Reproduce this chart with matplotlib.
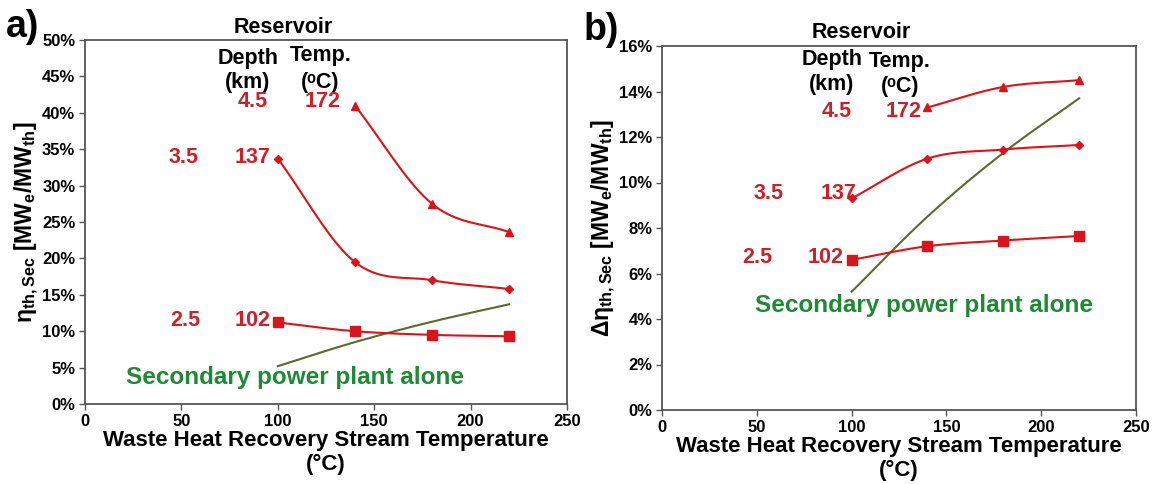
import numpy as np
import matplotlib
matplotlib.use("Agg")
import matplotlib.pyplot as plt
from matplotlib.ticker import FuncFormatter, MultipleLocator

plt.rcParams['font.family'] = ['Liberation Sans', 'DejaVu Sans']
plt.rcParams['font.weight'] = 'bold'
plt.rcParams['mathtext.fontset'] = 'custom'
plt.rcParams['mathtext.rm'] = 'Liberation Sans:bold'
plt.rcParams['mathtext.it'] = 'Liberation Sans:bold'
plt.rcParams['mathtext.bf'] = 'Liberation Sans:bold'

# ---------------- data ----------------
temps = [100, 140, 180, 220]
temps_45 = [140, 180, 220]

a_25 = [11.2, 10.0, 9.5, 9.3]
a_35 = [33.7, 19.5, 17.0, 15.8]
a_45 = [41.0, 27.5, 23.6]

b_25 = [6.6, 7.2, 7.45, 7.65]
b_35 = [9.3, 11.05, 11.45, 11.65]
b_45 = [13.3, 14.2, 14.5]

secondary = [5.2, 8.5, 11.3, 13.7]

x_ticks = [0, 50, 100, 150, 200, 250]

RED = '#C9222B'
LINE_RED = '#D8141C'
GREEN_TXT = '#1F8A34'
GREEN_LINE = '#5B6A2E'


def smooth(x, y, n=40):
    x = np.asarray(x, float)
    y = np.asarray(y, float)
    px = np.concatenate([[2 * x[0] - x[1]], x, [2 * x[-1] - x[-2]]])
    py = np.concatenate([[2 * y[0] - y[1]], y, [2 * y[-1] - y[-2]]])
    xs, ys = [], []
    for i in range(1, len(px) - 2):
        t = np.linspace(0, 1, n)
        p0, p1, p2, p3 = [np.array([px[j], py[j]]) for j in (i - 1, i, i + 1, i + 2)]
        t2, t3 = t * t, t * t * t
        pts = 0.5 * ((2 * p1)[:, None] + (-p0 + p2)[:, None] * t
                     + (2 * p0 - 5 * p1 + 4 * p2 - p3)[:, None] * t2
                     + (-p0 + 3 * p1 - 3 * p2 + p3)[:, None] * t3)
        xs.extend(pts[0]); ys.extend(pts[1])
    return np.array(xs), np.array(ys)


fig = plt.figure(figsize=(11.66, 4.84), dpi=100)
axa = fig.add_axes([85 / 1166, 80 / 484, 482 / 1166, 364 / 484])
axb = fig.add_axes([662 / 1166, 74 / 484, 474 / 1166, 364 / 484])

pct = FuncFormatter(lambda v, p: f"{v:.0f}%")


def style(ax, ymax, ystep):
    ax.set_xlim(0, 250)
    ax.set_ylim(0, ymax)
    ax.set_xticks(x_ticks)
    ax.yaxis.set_major_locator(MultipleLocator(ystep))
    ax.yaxis.set_major_formatter(pct)
    for s in ax.spines.values():
        s.set_color('#555555')
        s.set_linewidth(1.3)
    ax.tick_params(direction='out', length=4, width=1, color='#555555',
                   labelsize=12, pad=3)
    for lab in ax.get_xticklabels() + ax.get_yticklabels():
        lab.set_fontweight('bold')
    ax.set_xlabel("Waste Heat Recovery Stream Temperature\n(°C)",
                  fontsize=16, fontweight='bold', labelpad=1, linespacing=1.15)


def draw_series(ax, x, y, marker, ms):
    sx, sy = smooth(x, y)
    ax.plot(sx, sy, color=LINE_RED, lw=1.5, zorder=3)
    ax.plot(x, y, ls='none', marker=marker, ms=ms, color=LINE_RED, zorder=4)


kw_black = dict(fontsize=15.5, fontweight='bold', color='black', ha='center',
                va='center', clip_on=False)
kw_red = dict(fontsize=15.5, fontweight='bold', color=RED, ha='center', va='center')
kw_green = dict(fontsize=17.5, fontweight='bold', color=GREEN_TXT, ha='center',
                va='center')

# ---------------- panel a ----------------
style(axa, 50, 5)
draw_series(axa, temps, a_25, 's', 6.5)
draw_series(axa, temps, a_35, 'D', 4)
draw_series(axa, temps_45, a_45, '^', 6)
gx, gy = smooth(temps, secondary)
axa.plot(gx, gy, color=GREEN_LINE, lw=1.5, zorder=2)
axa.set_ylabel(r"$\mathrm{η_{th,Sec}}$ [MW$_\mathrm{e}$/MW$_\mathrm{th}$]",
               fontsize=16.5, fontweight='bold', labelpad=1)

axa.text(103, 51.7, "Reservoir", **kw_black)
axa.text(84.5, 47.5, "Depth", **kw_black)
axa.text(84.5, 44.1, "(km)", **kw_black)
axa.text(122, 47.9, "Temp.", **kw_black)
axa.text(122, 44.2, "(ᵒC)", **kw_black)
axa.text(87, 41.5, "4.5", **kw_red)
axa.text(123.5, 41.5, "172", **kw_red)
axa.text(51, 33.8, "3.5", **kw_red)
axa.text(87, 33.8, "137", **kw_red)
axa.text(52, 11.5, "2.5", **kw_red)
axa.text(87, 11.5, "102", **kw_red)
axa.text(109, 3.7, "Secondary power plant alone", **kw_green)
fig.text(6 / 1166, 1 - 27 / 484, "a)", fontsize=27, fontweight='bold', va='center', ha='left')

# ---------------- panel b ----------------
style(axb, 16, 2)
draw_series(axb, temps, b_25, 's', 6.5)
draw_series(axb, temps, b_35, 'D', 4)
draw_series(axb, temps_45, b_45, '^', 6)
gx, gy = smooth(temps, secondary)
axb.plot(gx, gy, color=GREEN_LINE, lw=1.5, zorder=2)
axb.set_ylabel(r"$\mathrm{Δη_{th,Sec}}$ [MW$_\mathrm{e}$/MW$_\mathrm{th}$]",
               fontsize=16.5, fontweight='bold', labelpad=1)

axb.text(105, 16.6, "Reservoir", **kw_black)
axb.text(89.5, 15.4, "Depth", **kw_black)
axb.text(89.5, 14.3, "(km)", **kw_black)
axb.text(125.5, 15.3, "Temp.", **kw_black)
axb.text(125.5, 14.2, "(ᵒC)", **kw_black)
axb.text(92, 13.1, "4.5", **kw_red)
axb.text(127.5, 13.1, "172", **kw_red)
axb.text(56, 9.5, "3.5", **kw_red)
axb.text(93, 9.5, "137", **kw_red)
axb.text(50.5, 6.7, "2.5", **kw_red)
axb.text(86.5, 6.7, "102", **kw_red)
axb.text(138, 4.6, "Secondary power plant alone", **kw_green)
fig.text(584 / 1166, 1 - 30 / 484, "b)", fontsize=27, fontweight='bold', va='center', ha='left')

fig.savefig("out.png", dpi=100, facecolor='white')
